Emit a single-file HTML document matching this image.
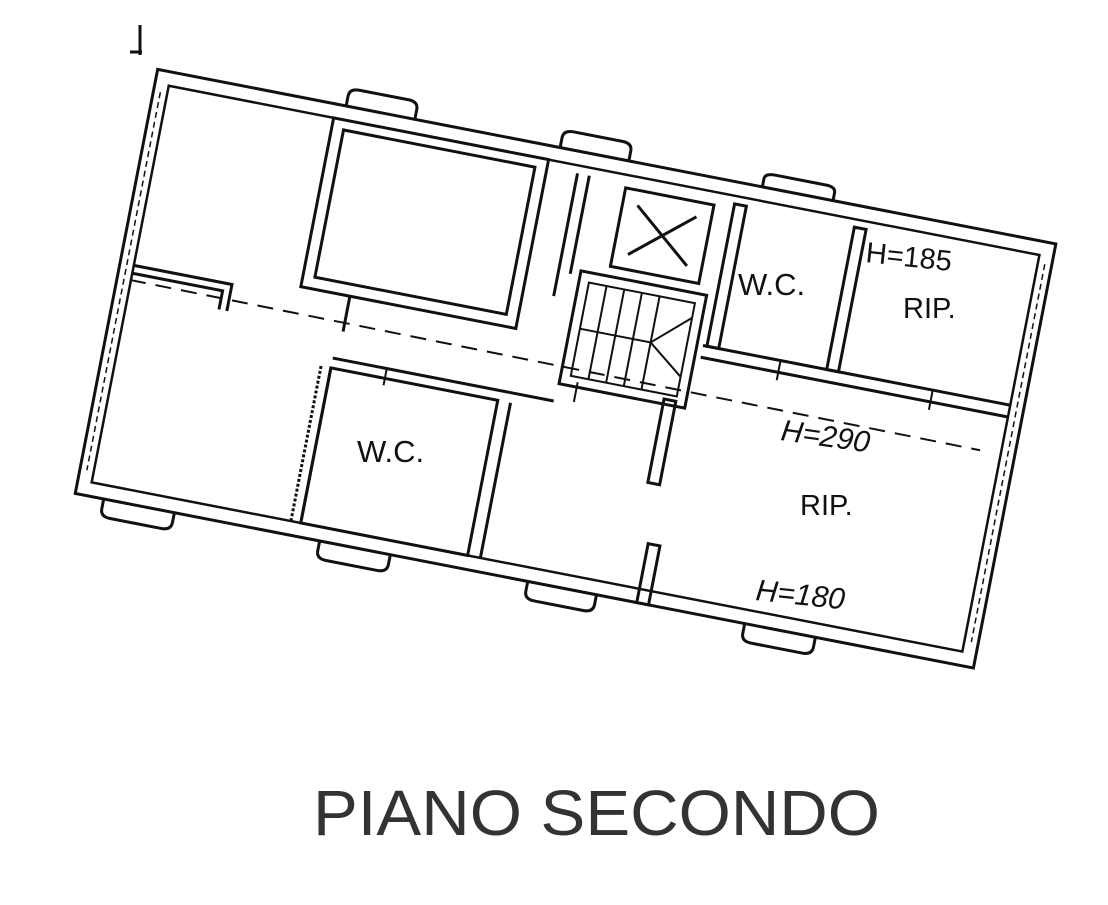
<!DOCTYPE html>
<html><head><meta charset="utf-8"><style>
html,body{margin:0;padding:0;background:#fff;}
svg{display:block}
text{font-family:"Liberation Sans",Arial,sans-serif;}
</style></head><body>
<svg width="1108" height="905" viewBox="0 0 1108 905" xmlns="http://www.w3.org/2000/svg">
<g transform="rotate(11)" stroke="#111" stroke-width="3" fill="none">
  <rect x="168" y="38" width="915" height="432"/>
  <rect x="182" y="52" width="887" height="404" stroke-width="2.5"/>
  <line x1="175" y1="60" x2="175" y2="445" stroke-dasharray="6 4" stroke-width="1.5"/>
  <line x1="1076" y1="60" x2="1076" y2="445" stroke-dasharray="6 4" stroke-width="1.5"/>
  <polyline points="182,235 282,235 282,262"/>
  <polyline points="182,243 274,243 274,262"/>
  <line x1="395" y1="298" x2="395" y2="456"/>
  <line x1="385" y1="298" x2="385" y2="456" stroke-dasharray="3 2"/>
  <rect x="362" y="62" width="195" height="150"/>
  <rect x="350" y="52" width="219" height="172"/>
  <line x1="400" y1="224" x2="400" y2="260"/>
  <rect x="395" y="298" width="170" height="158"/>
  <line x1="395" y1="288" x2="620" y2="288"/>
  <line x1="578" y1="298" x2="578" y2="456"/>
  <line x1="600" y1="60" x2="600" y2="185"/>
  <line x1="612" y1="60" x2="612" y2="160"/>
  <rect x="650" y="65" width="90" height="80"/>
  <line x1="665" y1="80" x2="725" y2="130"/>
  <line x1="725" y1="80" x2="665" y2="130"/>
  <rect x="622" y="155" width="128" height="115"/>
  <rect x="632" y="165" width="108" height="95" stroke-width="2"/>
  <g stroke-width="2">
    <line x1="650" y1="165" x2="650" y2="260"/>
    <line x1="668" y1="165" x2="668" y2="260"/>
    <line x1="686" y1="165" x2="686" y2="260"/>
    <line x1="704" y1="165" x2="704" y2="260"/>
    <line x1="632" y1="212" x2="704" y2="212"/>
    <line x1="704" y1="212" x2="740" y2="180"/>
    <line x1="704" y1="212" x2="740" y2="240"/>
  </g>
  <rect x="728" y="265" width="12" height="85"/>
  <rect x="740" y="410" width="12" height="60"/>
  <rect x="760" y="60" width="12" height="145"/>
  <rect x="882" y="60" width="12" height="145"/>
  <line x1="756" y1="205" x2="1069" y2="205"/>
  <line x1="756" y1="217" x2="1069" y2="217"/>
  <g stroke-width="2">
    <line x1="835" y1="205" x2="835" y2="225"/>
    <line x1="990" y1="205" x2="990" y2="225"/>
    <line x1="450" y1="288" x2="450" y2="305"/>
    <line x1="640" y1="265" x2="640" y2="285"/>
  </g>
  <line x1="181" y1="250" x2="1048" y2="255" stroke-dasharray="16 10" stroke-width="2"/>
  <path d="M360 38 v-10 q0-8 10-8 h50 q10 0 10 8 v10"/>
  <path d="M578 38 v-10 q0-8 10-8 h50 q10 0 10 8 v10"/>
  <path d="M784 38 v-8 q0-6 10-6 h52 q10 0 10 6 v8"/>
  <path d="M197 470 v10 q0 8 10 8 h52 q10 0 10-8 v-10"/>
  <path d="M417 470 v10 q0 8 10 8 h52 q10 0 10-8 v-10"/>
  <path d="M629 470 v10 q0 8 10 8 h50 q10 0 10-8 v-10"/>
  <path d="M850 470 v10 q0 8 10 8 h52 q10 0 10-8 v-10"/>
</g>
<g fill="#111">
  <text x="738" y="295" font-size="31">W.C.</text>
  <text x="865" y="262" font-size="29" transform="rotate(6 865 262)">H=185</text>
  <text x="903" y="318" font-size="29">RIP.</text>
  <text x="357" y="462" font-size="31">W.C.</text>
  <text x="780" y="440" font-size="30" font-style="italic" transform="rotate(8 780 440)">H=290</text>
  <text x="800" y="515" font-size="29">RIP.</text>
  <text x="755" y="600" font-size="30" font-style="italic" transform="rotate(6 755 600)">H=180</text>
  <text x="313" y="835" font-size="64" fill="#333" textLength="567" lengthAdjust="spacingAndGlyphs">PIANO SECONDO</text>
</g>
<g stroke="#111" stroke-width="3">
  <line x1="140" y1="25" x2="140" y2="55"/>
  <line x1="130" y1="52" x2="142" y2="52"/>
</g>
</svg>
</body></html>
